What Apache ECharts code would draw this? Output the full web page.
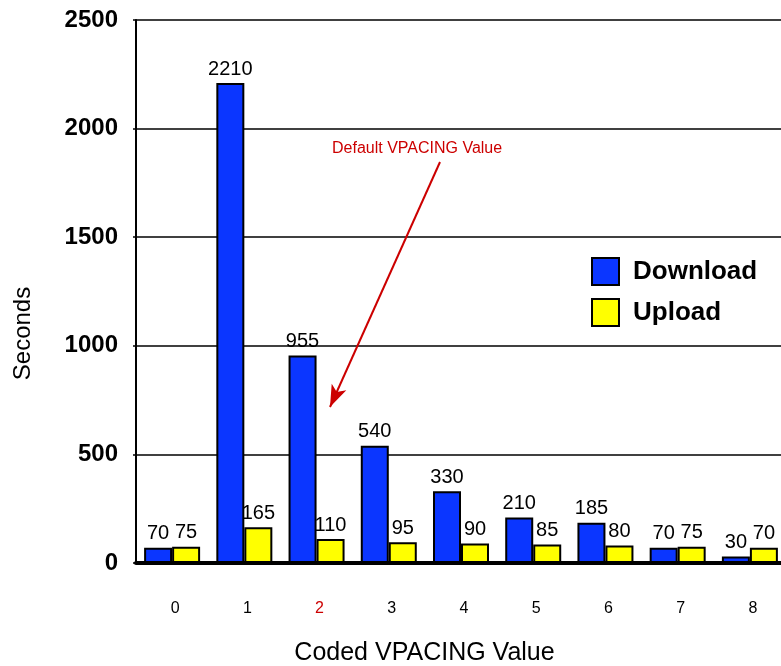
<!DOCTYPE html>
<html>
<head>
  <meta charset="utf-8">
  <script src="https://cdn.jsdelivr.net/npm/echarts@6/dist/echarts.min.js"></script>
  <style>
    html, body { margin: 0; padding: 0; background: #fff; }
  </style>
</head>
<body>
<div id="main" style="width:781px;height:666px;"></div>
<script type="text/javascript">
var categories = ['0', '1', '2', '3', '4', '5', '6', '7', '8'];
var downloadData = [70, 2210, 955, 540, 330, 210, 185, 70, 30];
var uploadData = [75, 165, 110, 95, 90, 85, 80, 75, 70];
var yTicks = [0, 500, 1000, 1500, 2000, 2500];
var defaultCategory = '2';

var font = "'Liberation Sans', Arial, sans-serif";
var blue = '#0b36ff';
var yellow = '#ffff00';
var red = '#cc0000';

var barLabel = {
    show: true,
    position: 'top',
    distance: 4,
    color: '#000',
    fontFamily: font,
    fontSize: 20
};

var myChart = echarts.init(document.getElementById('main'));

myChart.setOption({
    animation: false,
    backgroundColor: '#fff',
    grid: {
        left: 136,
        top: 20,
        right: -5,
        bottom: 103,
        containLabel: false,
        outerBoundsMode: 'none'
    },
    legend: {
        orient: 'vertical',
        left: 591,
        top: 257,
        padding: 0,
        itemWidth: 27,
        itemHeight: 27,
        itemGap: 12,
        icon: 'rect',
        itemStyle: { borderColor: '#000', borderWidth: 2 },
        textStyle: {
            fontFamily: font,
            fontSize: 26,
            fontWeight: 'bold',
            color: '#000',
            padding: [0, 0, 0, 9]
        },
        data: ['Download', 'Upload']
    },
    xAxis: {
        type: 'category',
        data: categories,
        name: 'Coded VPACING Value',
        nameLocation: 'middle',
        nameGap: 78,
        nameTextStyle: {
            fontFamily: font,
            fontSize: 25,
            color: '#000',
            padding: [0, 73, 0, 0]
        },
        axisLine: { lineStyle: { color: '#000', width: 4 } },
        axisTick: { show: false },
        axisLabel: {
            margin: 38,
            fontFamily: font,
            fontSize: 16,
            padding: [0, 0, 0, 6],
            color: function (v) {
                return v === defaultCategory ? red : '#000';
            }
        }
    },
    yAxis: {
        type: 'value',
        min: yTicks[0],
        max: yTicks[yTicks.length - 1],
        interval: 500,
        name: 'Seconds',
        nameLocation: 'middle',
        nameGap: 101,
        nameRotate: 90,
        nameTextStyle: {
            fontFamily: font,
            fontSize: 24,
            color: '#000',
            padding: [0, 84, 0, 0]
        },
        axisLine: { show: true, lineStyle: { color: '#000', width: 2 } },
        axisTick: { show: true, inside: false, length: 3, lineStyle: { color: '#000', width: 1.5 } },
        axisLabel: {
            margin: 18,
            fontFamily: font,
            fontSize: 24,
            fontWeight: 'bold',
            color: '#000',
            formatter: function (v) { return String(v); }
        },
        splitLine: { show: true, lineStyle: { color: '#000', width: 1.5 } }
    },
    series: [
        {
            name: 'Download',
            type: 'bar',
            data: downloadData,
            barWidth: 28,
            barGap: '0%',
            itemStyle: { color: blue, borderColor: '#000', borderWidth: 2 },
            label: barLabel,
            markLine: {
                silent: true,
                symbol: ['none', 'arrow'],
                symbolSize: [12, 22],
                label: { show: false },
                lineStyle: { color: red, width: 2, type: 'solid' },
                data: [[{ x: 440, y: 162 }, { x: 330, y: 407 }]]
            }
        },
        {
            name: 'Upload',
            type: 'bar',
            data: uploadData,
            barWidth: 28,
            barGap: '0%',
            itemStyle: { color: yellow, borderColor: '#000', borderWidth: 2 },
            label: barLabel
        }
    ],
    graphic: [
        {
            type: 'text',
            left: 332,
            top: 141,
            style: {
                text: 'Default VPACING Value',
                fill: red,
                font: '16px ' + font
            }
        }
    ]
});
</script>
</body>
</html>
